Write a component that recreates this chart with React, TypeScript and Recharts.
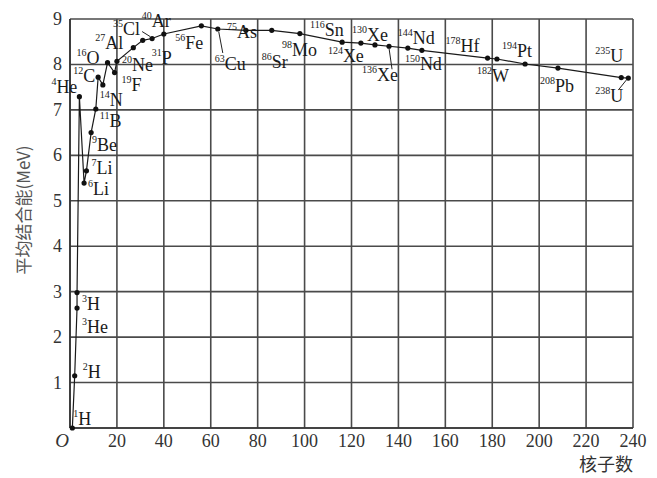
import { LineChart, Line, XAxis, YAxis, CartesianGrid } from 'recharts'

// nucleus: mass number, symbol, binding energy per nucleon (MeV)
const massNumbers = [1, 2, 3, 3, 4, 6, 7, 9, 11, 12, 14, 16, 19, 20, 27, 31, 35, 40, 56, 63, 75, 86, 98, 116, 124, 130, 136, 144, 150, 178, 182, 194, 208, 235, 238]
const symbols = ['H', 'H', 'He', 'H', 'He', 'Li', 'Li', 'Be', 'B', 'C', 'N', 'O', 'F', 'Ne', 'Al', 'P', 'Cl', 'Ar', 'Fe', 'Cu', 'As', 'Sr', 'Mo', 'Sn', 'Xe', 'Xe', 'Xe', 'Nd', 'Nd', 'Hf', 'W', 'Pt', 'Pb', 'U', 'U']
const energies = [0, 1.15, 2.64, 2.98, 7.29, 5.39, 5.66, 6.5, 7.02, 7.72, 7.55, 8.04, 7.82, 8.07, 8.37, 8.53, 8.57, 8.67, 8.85, 8.78, 8.75, 8.75, 8.68, 8.49, 8.47, 8.43, 8.4, 8.36, 8.31, 8.14, 8.12, 8.01, 7.92, 7.71, 7.7]

const xTicks = [0, 20, 40, 60, 80, 100, 120, 140, 160, 180, 200, 220, 240]
const yTicks = [0, 1, 2, 3, 4, 5, 6, 7, 8, 9]

// label placement relative to each dot: [dx, dy, anchor]
const labelPos: [number, number, 'start' | 'end'][] = [
  [1, -3, 'start'], [8, 2, 'start'], [5, 25, 'start'], [5, 17, 'start'], [-2, -4, 'end'],
  [4, 12, 'start'], [5, 3, 'start'], [1, 18, 'start'], [4, 18, 'start'], [-3, 5, 'end'],
  [-3, 21, 'start'], [-8, 1, 'end'], [7, 18, 'start'], [5, 10, 'start'], [-10, 1, 'end'],
  [9, 24, 'start'], [-12, -4, 'end'], [-22, -7, 'start'], [-26, 23, 'start'], [-3, 41, 'start'],
  [-19, 8, 'start'], [-10, 38, 'start'], [-18, 22, 'start'], [-32, -6, 'start'], [-33, 19, 'start'],
  [-23, -4, 'start'], [-27, 35, 'start'], [-10, -4, 'start'], [-17, 20, 'start'], [-42, -6, 'start'],
  [-20, 23, 'start'], [-23, -7, 'start'], [-18, 24, 'start'], [-26, -16, 'start'], [-33, 24, 'start'],
]
const leaders: Record<number, number[]> = {
  16: [-2, -2, -10, -7],
  19: [1, 3, 5, 24],
  26: [0, 2, 3, 23],
  34: [-2, 2, -10, 12],
}

const data = massNumbers.map((a, i) => ({ a, e: energies[i], sym: symbols[i] }))

const serif = '"Liberation Serif", "Times New Roman", serif'

const NucleusDot = (props: any) => {
  const { cx, cy, index } = props
  const [dx, dy, anchor] = labelPos[index]
  const ld = leaders[index]
  return (
    <g key={index}>
      <circle cx={cx} cy={cy} r={2.6} fill="#111" />
      {ld && <line x1={cx + ld[0]} y1={cy + ld[1]} x2={cx + ld[2]} y2={cy + ld[3]} stroke="#222" strokeWidth={1} />}
      <text x={cx + dx} y={cy + dy} textAnchor={anchor} fontFamily={serif} fill="#1a1a1a">
        <tspan fontSize={10} dy={-8}>{massNumbers[index]}</tspan>
        <tspan fontSize={18} dy={8}>{symbols[index]}</tspan>
      </text>
    </g>
  )
}

const XTick = (props: any) => {
  const { x, y, payload } = props
  if (payload.value === 0) {
    return <text x={x - 8} y={y + 11} textAnchor="middle" fontFamily={serif} fontStyle="italic" fontSize={19} fill="#333">O</text>
  }
  return <text x={x} y={y + 11} textAnchor="middle" fontFamily={serif} fontSize={18} fill="#333">{payload.value}</text>
}

const YTick = (props: any) => {
  const { x, y, payload } = props
  if (payload.value === 0) return <g />
  return <text x={x} y={y + 6} textAnchor="end" fontFamily={serif} fontSize={18} fill="#333">{payload.value}</text>
}

export default function App() {
  return (
    <LineChart width={640} height={470} data={data} margin={{ top: 11, right: 15, left: 0, bottom: 20 }}>
      <CartesianGrid stroke="#4a4a4a" strokeWidth={1.6} />
      <XAxis dataKey="a" type="number" domain={[0, 240]} ticks={xTicks} tick={<XTick />} tickLine={false} axisLine={{ stroke: '#333', strokeWidth: 1.6 }} height={30} interval={0} />
      <YAxis type="number" domain={[0, 9]} ticks={yTicks} tick={<YTick />} tickLine={false} axisLine={{ stroke: '#333', strokeWidth: 1.6 }} width={62} interval={0} />
      <Line dataKey="e" type="linear" stroke="#1a1a1a" strokeWidth={1.2} dot={NucleusDot} activeDot={false} isAnimationActive={false} />
      <text x={22} y={202} transform="rotate(-90 22 202)" textAnchor="middle" fontFamily='"Noto Sans CJK SC", sans-serif' fontSize={17} fill="#555">平均结合能(MeV)</text>
      <text x={625} y={463} textAnchor="end" fontFamily='"Noto Sans CJK SC", serif' fontSize={18} fill="#333">核子数</text>
    </LineChart>
  )
}
